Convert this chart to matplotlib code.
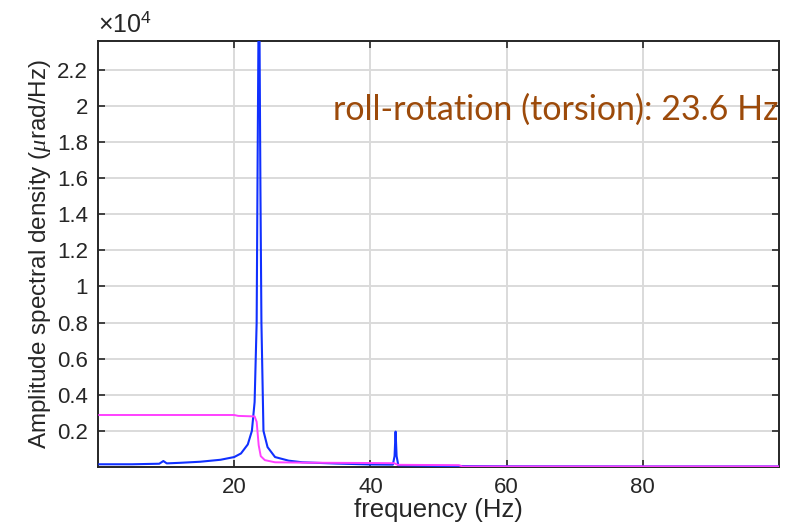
import numpy as np
import matplotlib.pyplot as plt
from matplotlib.ticker import FuncFormatter

plt.rcParams['font.family'] = ['Liberation Sans', 'DejaVu Sans']
plt.rcParams['mathtext.fontset'] = 'custom'
plt.rcParams['mathtext.rm'] = 'Liberation Sans'
plt.rcParams['mathtext.it'] = 'Liberation Serif:italic'

# roll-rotation spectrum (blue) and second channel (magenta)
freq_blue = [0.2, 5, 9.0, 9.6, 10.1, 12, 15, 18, 20, 21, 22, 22.6, 23.0, 23.3,
             23.45, 23.6, 23.72, 23.85, 24.0, 24.3, 24.9, 26, 28, 30, 35, 40,
             43.3, 43.55, 43.7, 43.85, 44.1, 50, 60, 80, 100]
asd_blue = [150, 150, 180, 330, 200, 230, 290, 400, 550, 750, 1250, 2000, 3600,
            8000, 17400, 26000, 24000, 15600, 8000, 2000, 1100, 550, 350, 260,
            190, 140, 130, 600, 1960, 600, 90, 60, 40, 30, 30]

freq_pink = [0.2, 20, 20.6, 23.0, 23.3, 23.6, 23.9, 24.5, 26, 30, 40, 43.5,
             44.0, 53, 53.5, 100]
asd_pink = [2880, 2880, 2830, 2800, 2500, 1200, 600, 380, 260, 240, 220, 210,
            120, 100, 30, 30]

xticks = [20, 40, 60, 80]
yticks = [2000, 4000, 6000, 8000, 10000, 12000, 14000, 16000, 18000, 20000, 22000]

fig = plt.figure(figsize=(7.92, 5.22), dpi=100)
ax = fig.add_axes([0.1237, 0.1054, 0.8599, 0.8161])

ax.plot(freq_blue, asd_blue, color='#1030ff', lw=1.5, zorder=3)
ax.plot(freq_pink, asd_pink, color='#ff40ff', lw=1.4, zorder=4)

ax.set_xlim(0, 100)
ax.set_ylim(0, 23600)
ax.set_xticks(xticks)
ax.set_yticks(yticks)
ax.yaxis.set_major_formatter(FuncFormatter(lambda v, p: f'{v / 1e4:g}'))

ax.grid(True, color='#dadada', lw=1.4, zorder=0)
ax.set_axisbelow(True)
ax.tick_params(direction='in', length=5, width=1.2, top=True, right=True,
               labelsize=16, colors='#262626', pad=7)
for s in ax.spines.values():
    s.set_color('#262626')
    s.set_linewidth(1.4)

ax.set_xlabel('frequency (Hz)', fontsize=18.5, color='#262626', labelpad=0)
ax.set_ylabel(r'Amplitude spectral density ($\mu$rad/Hz)', fontsize=17.5,
              color='#262626', labelpad=3)

ax.text(0.0, 1.01, r'$\times$10$^{4}$', transform=ax.transAxes, fontsize=18,
        color='#262626', ha='left', va='bottom')

ax.text(34.5, 19250, 'roll-rotation (torsion): 23.6 Hz', fontsize=24.5,
        family='Lato', color='#9c4a0a', va='baseline', ha='left', zorder=5)

fig.savefig('out.png', dpi=100)
